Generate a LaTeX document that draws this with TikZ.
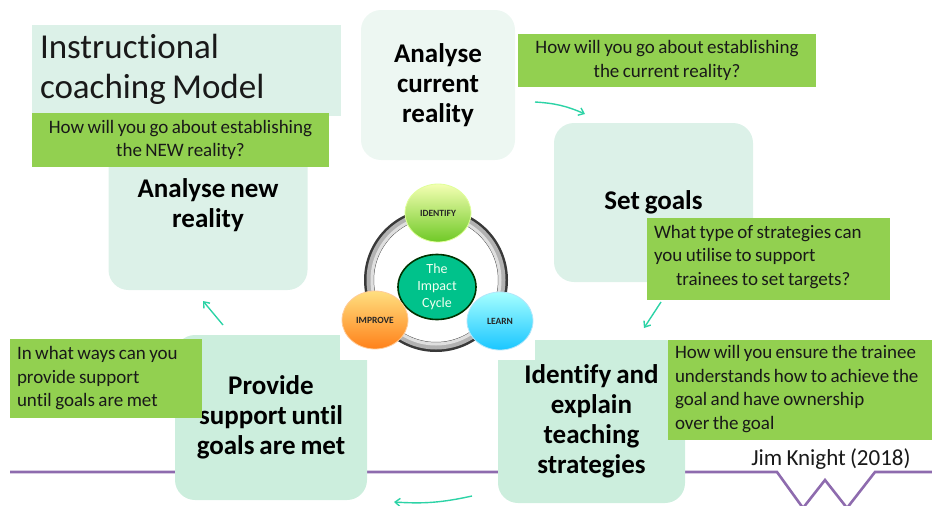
\documentclass[tikz,border=0pt]{standalone}
\usepackage{fontspec}
\setmainfont{Carlito}[WordSpace=0.8, Ligatures={NoCommon,NoRare}]
\usetikzlibrary{arrows.meta,shapes.geometric}
\definecolor{qgreen}{HTML}{92D050}
\definecolor{boxA}{HTML}{EDF7F2}
\definecolor{boxB}{HTML}{DCF1E8}
\definecolor{boxC}{HTML}{CCEEDD}
\definecolor{purp}{HTML}{8E6BAE}
\definecolor{teal}{HTML}{2CD3A6}
\definecolor{impact}{HTML}{00C28B}
\tikzset{
  mainbox/.style={rounded corners=20pt, inner sep=4pt, align=center,
    font=\fontsize{27}{30}\selectfont\bfseries, text=black},
  qbox/.style={fill=qgreen, inner sep=0pt},
  qtext/.style={inner sep=0pt, anchor=west,
    font=\fontsize{19}{23.5}\selectfont, text=black!90},
  flow/.style={draw=teal, line width=1.4pt, -{Straight Barb[length=5pt,width=8pt]}},
  cyc/.style={ellipse, minimum width=66pt, minimum height=58pt, inner sep=0pt,
    font=\fontsize{9.5}{10}\selectfont\bfseries, text=black!85},
}
\begin{document}
\begin{tikzpicture}[x=1pt,y=-1pt]
\useasboundingbox (0,0) rectangle (932,506);
\begin{scope}
\clip (0,0) rectangle (932,506);
\draw[purp, line width=2.6pt, line join=miter]
  (10,472) -- (777,472) -- (803,508) -- (825,480) -- (847,508) -- (875,472) -- (932,472);
\end{scope}

% main boxes
\node[mainbox, fill=boxA, minimum width=154pt, minimum height=150pt] (cur) at (438,85) {Analyse\\current\\reality};
\node[mainbox, fill=boxB, minimum width=199pt, minimum height=159pt] (goals) at (653.5,202.5) {Set goals};
\node[mainbox, fill=boxC, minimum width=187pt, minimum height=163pt] (ident) at (591.5,421.5) {Identify and\\explain\\teaching\\strategies};
\node[mainbox, fill=boxC, minimum width=192pt, minimum height=165pt] (prov) at (271,417.5) {Provide\\support until\\goals are met};
\node[mainbox, fill=boxB, minimum width=199pt, minimum height=170pt] (new) at (208,205) {Analyse new\\reality};

% title box
\node[fill=boxB, minimum width=309pt, minimum height=91pt, inner sep=0pt] (titlebox) at (186.5,70.5) {};
\node[inner sep=0pt, anchor=west, align=left, font=\fontsize{35}{40}\selectfont, text=black!90]
  (title) at ([xshift=8pt,yshift=1pt]titlebox.west) {Instructional\\coaching Model};

% cycle picture background
\fill[white] (340,170) rectangle (535,360);
\node[circle, minimum size=144pt, inner sep=0pt] (ring) at (436,280) {};
\draw[gray!45!black, line width=10pt] (ring.center) circle[radius=67pt];
\draw[gray!60, line width=7pt] (ring.center) circle[radius=66pt];
\draw[gray!25, line width=3pt] (ring.center) circle[radius=64pt];

\node[ellipse, minimum width=78pt, minimum height=60pt, inner sep=0pt, fill=impact,
  draw=black!80!green, line width=1.6pt, align=center,
  font=\fontsize{14}{17}\selectfont, text=green!6] (cycle) at (437,287) {The\\Impact\\Cycle};
\node[cyc, top color=green!15!yellow!30!white, bottom color=green!55!yellow!75!black!85,
  draw=green!30!yellow!40!white, line width=0.8pt] (identify) at (438,213) {IDENTIFY};
\node[cyc, top color=orange!50!yellow!50, bottom color=orange!90!red!90,
  draw=orange!40, line width=0.8pt] (improve) at (375,320) {IMPROVE};
\node[cyc, top color=cyan!35, bottom color=cyan!75!blue!90,
  draw=cyan!30, line width=0.8pt] (learn) at (500,321) {LEARN};

% question boxes
\node[qbox, minimum width=297pt, minimum height=54pt] (q1) at (180.5,140) {};
\node[qtext, anchor=center, align=center] (q1t) at (q1.center)
  {How will you go about establishing\\the NEW reality?};
\node[qbox, minimum width=298pt, minimum height=53pt] (q2) at (667,60.5) {};
\node[qtext, anchor=center, align=center] (q2t) at (q2.center)
  {How will you go about establishing\\the current reality?};
\node[qbox, minimum width=243pt, minimum height=82pt] (q3) at (768.5,259) {};
\node[qtext, align=left] (q3t) at ([xshift=7pt,yshift=2pt]q3.west)
  {What type of strategies can\\you utilise to support\\\hspace*{22pt}trainees to set targets?};
\node[qbox, minimum width=264pt, minimum height=100pt] (q4) at (800,390) {};
\node[qtext, align=left] (q4t) at ([xshift=7pt,yshift=1pt]q4.west)
  {How will you ensure the trainee\\understands how to achieve the\\goal and have ownership\\over the goal};
\node[qbox, minimum width=192pt, minimum height=79pt] (q5) at (106,378.5) {};
\node[qtext, align=left] (q5t) at ([xshift=7pt]q5.west)
  {In what ways can you\\provide support\\until goals are met};

\node[font=\fontsize{23}{26}\selectfont, text=black!90] (jim) at (831,459) {Jim Knight (2018)};

% arrows
\coordinate (a1s) at (535,102); \coordinate (a1e) at (585,114);
\coordinate (a2s) at (661,302); \coordinate (a2e) at (644,328);
\coordinate (a3s) at (472,496); \coordinate (a3e) at (394,502);
\coordinate (a4s) at (223,325); \coordinate (a4e) at (203,301);
\draw[flow] (a1s) to[bend left=10] (a1e);
\draw[flow] (a2s) -- (a2e);
\draw[flow] (a3s) to[bend left=8] (a3e);
\draw[flow] (a4s) -- (a4e);
\end{tikzpicture}
\end{document}
